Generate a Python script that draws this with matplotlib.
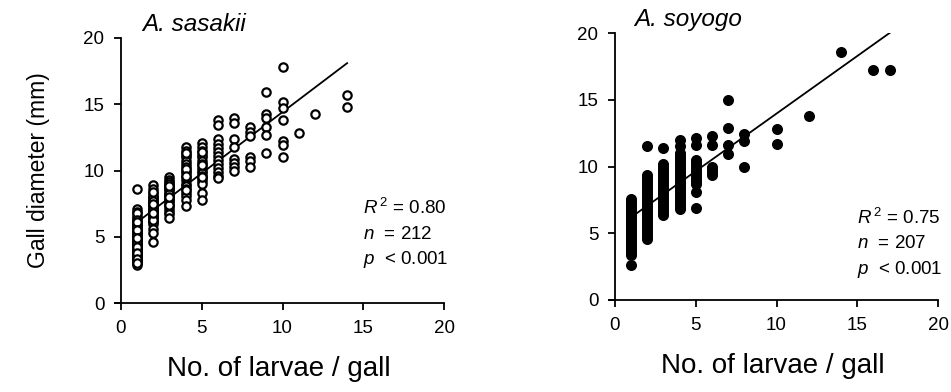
import matplotlib
matplotlib.use("Agg")
import matplotlib.pyplot as plt
import numpy as np

plt.rcParams['font.family'] = ['Liberation Sans', 'DejaVu Sans']
plt.rcParams['mathtext.fontset'] = 'custom'
plt.rcParams['mathtext.rm'] = 'Liberation Sans'
plt.rcParams['mathtext.it'] = 'Liberation Sans:italic'

# ---------------- data ----------------
sasakii = {
    1: [8.6, 7.1, 6.9, 6.6, 6.4, 6.2, 6.0, 5.9, 5.8, 5.7, 5.6, 5.5, 5.4, 5.3, 5.2, 5.1,
        5.0, 5.0, 4.9, 4.8, 4.7, 4.7, 4.6, 4.5, 4.4, 4.4, 4.3, 4.2, 4.1, 4.0, 4.0, 3.9,
        3.8, 3.7, 3.6, 3.5, 3.5, 3.4, 3.3, 3.2, 3.1, 3.0, 2.9, 6.8, 6.3, 5.8, 5.2, 4.6,
        4.2, 3.8, 3.3, 3.0, 6.1, 5.5, 4.9],
    2: [8.9, 8.6, 8.3, 8.1, 7.9, 7.8, 7.6, 7.5, 7.3, 7.2, 7.0, 6.9, 6.8, 6.6, 6.5, 6.4,
        6.2, 6.1, 6.0, 5.6, 5.3, 4.6, 8.0, 7.7, 7.4, 7.1, 6.7, 6.3, 8.4, 7.0, 6.8, 7.5],
    3: [9.5, 9.3, 9.1, 8.9, 8.7, 8.5, 8.3, 8.1, 7.9, 7.7, 7.5, 7.3, 7.1, 6.9, 6.7, 6.4,
        9.0, 8.6, 8.2, 7.8, 7.4, 8.8, 8.0],
    4: [11.8, 11.5, 11.2, 11.0, 10.7, 10.5, 10.3, 10.0, 9.8, 9.5, 9.3, 9.0, 8.8, 8.6,
        8.3, 8.1, 7.8, 7.3, 11.3, 10.1, 9.6, 8.5],
    5: [12.1, 11.8, 11.5, 11.2, 11.0, 10.7, 10.5, 10.2, 10.0, 9.8, 9.6, 9.4, 9.2, 9.0,
        8.3, 7.8, 11.4, 10.4, 9.5],
    6: [13.8, 13.4, 12.4, 12.0, 11.7, 11.4, 11.1, 10.8, 10.5, 10.2, 9.9, 9.6, 9.4],
    7: [14.0, 13.6, 12.4, 11.8, 10.9, 10.6, 10.3, 10.0],
    8: [13.3, 12.9, 12.6, 11.0, 10.7, 10.3],
    9: [15.9, 14.3, 14.0, 13.3, 12.7, 11.3],
    10: [17.8, 15.2, 14.7, 13.8, 12.2, 11.9, 11.0],
    11: [12.8],
    12: [14.3],
    14: [15.7, 14.8],
}

soyogo = {
    1: [7.6, 7.4, 7.2, 7.0, 6.8, 6.6, 6.4, 6.2, 6.0, 5.8, 5.6, 5.4, 5.2, 5.0, 4.8, 4.6,
        4.4, 4.2, 4.0, 3.8, 3.6, 3.4, 2.6, 7.1, 6.5, 5.9, 5.3, 4.7, 4.1, 3.7],
    2: [11.5, 9.4, 9.2, 9.0, 8.8, 8.6, 8.4, 8.2, 8.0, 7.8, 7.6, 7.4, 7.2, 7.0, 6.8, 6.6,
        6.4, 6.2, 6.0, 5.8, 5.6, 5.4, 5.2, 5.0, 4.8, 4.6],
    3: [11.4, 10.2, 10.0, 9.8, 9.6, 9.4, 9.2, 9.0, 8.8, 8.6, 8.4, 8.2, 8.0, 7.8, 7.6,
        7.4, 7.2, 7.0, 6.8, 6.6, 6.4],
    4: [12.0, 11.5, 11.0, 10.8, 10.6, 10.4, 10.2, 10.0, 9.8, 9.6, 9.4, 9.2, 9.0, 8.8,
        8.6, 8.4, 8.2, 8.0, 7.8, 7.6, 7.4, 7.2, 7.0, 6.8],
    5: [12.1, 11.6, 10.5, 10.3, 10.1, 9.9, 9.7, 9.5, 9.3, 9.1, 8.9, 8.7, 8.1, 6.9],
    6: [12.3, 11.6, 10.0, 9.8, 9.6, 9.4],
    7: [15.0, 12.9, 11.6, 10.9],
    8: [12.4, 11.9, 10.0],
    10: [12.8, 11.7],
    12: [13.8],
    14: [18.6],
    16: [17.2],
    17: [17.2],
}

# regression line end points
line_left_x = [1, 14]
line_left_y = [6.1, 18.1]
line_right_x = [1, 17]
line_right_y = [6.2, 20.0]

titles = ["A. sasakii", "A. soyogo"]
stats_left = ["0.80", "212", "0.001"]
stats_right = ["0.75", "207", "0.001"]
ticks = [0, 5, 10, 15, 20]


def flatten(d):
    xs, ys = [], []
    for k, vals in d.items():
        xs += [k] * len(vals)
        ys += vals
    return np.array(xs), np.array(ys)


fig = plt.figure(figsize=(9.51, 3.92), dpi=100)
W, H = 951, 392


def make_ax(x0px, x20px, y0px, y20px):
    ppu = (x20px - x0px) / 20.0
    left = (x0px - 0.4 * ppu) / W
    width = (x20px - (x0px - 0.4 * ppu)) / W
    bottom = 1 - y0px / H
    height = (y0px - y20px) / H
    ax = fig.add_axes([left, bottom, width, height])
    ax.set_xlim(-0.4, 20)
    ax.set_ylim(0, 20)
    ax.spines['left'].set_position(('data', 0))
    ax.spines['top'].set_visible(False)
    ax.spines['right'].set_visible(False)
    for s in ('left', 'bottom'):
        ax.spines[s].set_linewidth(1.3)
    ax.set_xticks(ticks)
    ax.set_yticks(ticks)
    ax.tick_params(direction='out', length=5, width=1.3, labelsize=13.5, pad=7)
    return ax


axL = make_ax(121, 444, 303, 38)
axR = make_ax(615, 938, 300, 33)

xl, yl = flatten(sasakii)
axL.scatter(xl, yl, s=36, facecolors='white', edgecolors='black', linewidths=1.6,
            clip_on=False, zorder=3)
axL.plot(line_left_x, line_left_y, color='black', lw=1.3, zorder=2)

xr, yr = flatten(soyogo)
axR.scatter(xr, yr, s=48, color='black', clip_on=False, zorder=3)
axR.plot(line_right_x, line_right_y, color='black', lw=1.3, zorder=2)

for ax, t, st, ys, tx in ((axL, titles[0], stats_left, (7.2, 5.2, 3.3), 1.3),
                          (axR, titles[1], stats_right, (6.15, 4.2, 2.3), 1.2)):
    ax.text(tx, 21.0, t, style='italic', fontsize=17.5, ha='left', va='center')
    ax.text(15.0, ys[0], r"$R^{\,2}$ = " + st[0], fontsize=13.5, va='center')
    ax.text(15.0, ys[1], r"$n$  = " + st[1], fontsize=13.5, va='center')
    ax.text(15.0, ys[2], r"$p$  < " + st[2], fontsize=13.5, va='center')
    ax.set_xlabel("No. of larvae / gall", fontsize=20, labelpad=14)

axL.set_ylabel("Gall diameter (mm)", fontsize=16.5, labelpad=24)

fig.savefig("out.png", dpi=100)
